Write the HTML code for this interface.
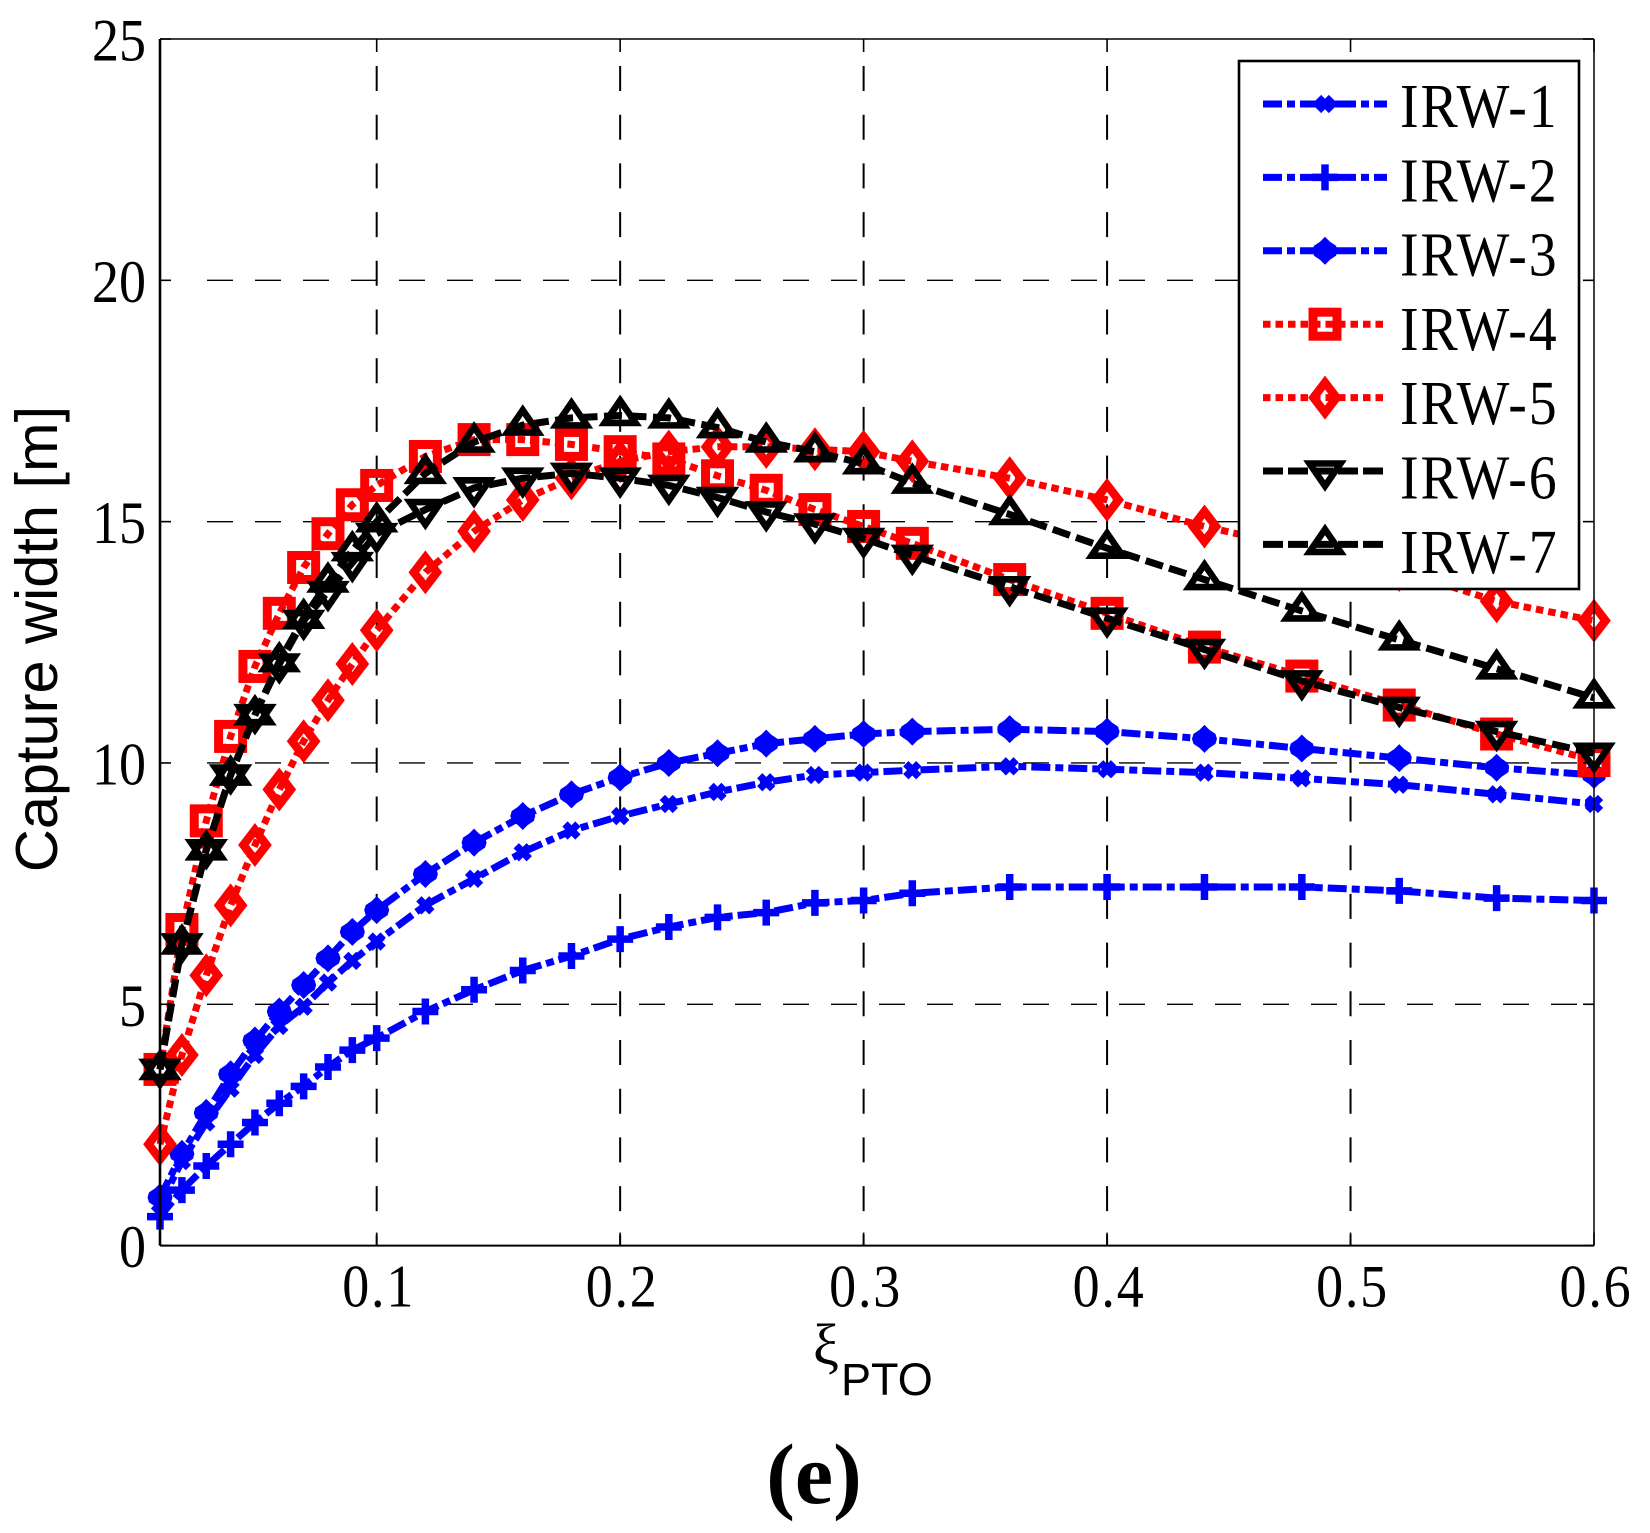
<!DOCTYPE html>
<html>
<head>
<meta charset="utf-8">
<title>Capture width vs PTO damping</title>
<style>
html,body{margin:0;padding:0;background:#fff;width:1650px;height:1533px;overflow:hidden}
svg{display:block}
.serif{font-family:"Liberation Serif",serif;fill:#000}
.sans{font-family:"Liberation Sans",sans-serif;fill:#000}
</style>
</head>
<body>
<svg id="chart" xmlns="http://www.w3.org/2000/svg" width="1650" height="1533" viewBox="0 0 1650 1533">
  <rect x="0" y="0" width="1650" height="1533" fill="#fff"></rect>
  <g id="grid"></g>
  <g id="series"></g>
  <g id="axes"></g>
  <g id="ticks"></g>
  <text class="sans" font-size="59.5" text-anchor="middle" transform="translate(57,639) rotate(-90)">Capture width [m]</text>
  <text class="serif" font-size="58" x="813" y="1364">ξ</text>
  <text class="sans" font-size="45" x="841" y="1395">PTO</text>
  <text class="serif" font-size="86" font-weight="bold" text-anchor="middle" x="814" y="1503">(e)</text>
  <g id="legend"></g>
</svg>
<script>
const xValues = [0.011,0.02,0.03,0.04,0.05,0.06,0.07,0.08,0.09,0.1,0.12,0.14,0.16,0.18,0.2,0.22,0.24,0.26,0.28,0.3,0.32,0.36,0.4,0.44,0.48,0.52,0.56,0.6];
const irw1 = [0.85,1.75,2.55,3.25,3.95,4.55,4.95,5.45,5.9,6.3,7.05,7.6,8.15,8.6,8.9,9.15,9.4,9.6,9.75,9.8,9.85,9.93,9.87,9.8,9.68,9.55,9.35,9.15];
const irw2 = [0.6,1.15,1.65,2.1,2.55,2.95,3.3,3.7,4.05,4.3,4.85,5.3,5.7,6.0,6.35,6.6,6.8,6.9,7.1,7.15,7.3,7.43,7.43,7.43,7.43,7.35,7.2,7.15];
const irw3 = [1.0,1.9,2.75,3.55,4.25,4.85,5.4,5.95,6.5,6.95,7.7,8.35,8.9,9.35,9.7,10.0,10.2,10.4,10.5,10.6,10.65,10.7,10.65,10.5,10.3,10.1,9.9,9.75];
const irw4 = [3.65,6.55,8.8,10.55,12.0,13.1,14.05,14.75,15.35,15.75,16.35,16.7,16.7,16.6,16.45,16.3,15.95,15.65,15.25,14.9,14.55,13.8,13.1,12.4,11.8,11.2,10.6,10.05];
const irw5 = [2.1,3.95,5.6,7.05,8.3,9.45,10.45,11.3,12.05,12.75,13.95,14.8,15.45,15.9,16.25,16.45,16.55,16.55,16.5,16.45,16.25,15.9,15.45,14.9,14.45,14.0,13.35,12.95];
const irw6 = [3.65,6.25,8.2,9.75,11.0,12.05,12.95,13.55,14.15,14.75,15.25,15.7,15.9,16.0,15.9,15.75,15.5,15.2,14.95,14.65,14.3,13.65,13.0,12.35,11.7,11.15,10.65,10.2];
const irw7 = [3.65,6.25,8.2,9.75,11.0,12.1,13.0,13.75,14.4,15.0,16.0,16.65,17.0,17.15,17.2,17.15,16.95,16.65,16.45,16.2,15.8,15.15,14.45,13.8,13.15,12.55,11.95,11.35];
const seriesNames = ["IRW-1","IRW-2","IRW-3","IRW-4","IRW-5","IRW-6","IRW-7"];
const xTickValues = [0.1,0.2,0.3,0.4,0.5,0.6];
const xTickLabels = ["0.1","0.2","0.3","0.4","0.5","0.6"];
const yTickValues = [0,5,10,15,20,25];
const yTickLabels = ["0","5","10","15","20","25"];

const NS = "http://www.w3.org/2000/svg";
const plot = {left:160,right:1594,top:39,bottom:1245.6};
const xMin = 0.011, xMax = 0.6, yMin = 0, yMax = 25;
function xScale(v){ return plot.left + (v - xMin) / (xMax - xMin) * (plot.right - plot.left); }
function yScale(v){ return plot.bottom - (v - yMin) / (yMax - yMin) * (plot.bottom - plot.top); }

const BLUE = "#0000ff", RED = "#ff0000", BLACK = "#000000";
const styles = [
  {color:BLUE, dash:"19 5 8 5", key:"19 5 8 5 56 5 8 5 13", marker:"x"},
  {color:BLUE, dash:"19 5 8 5", key:"19 5 8 5 56 5 8 5 13", marker:"plus"},
  {color:BLUE, dash:"19 5 8 5", key:"19 5 8 5 56 5 8 5 13", marker:"blob"},
  {color:RED, dash:"7.5 5", key:"7.5 5", marker:"square"},
  {color:RED, dash:"7.5 5", key:"7.5 5", marker:"diamond"},
  {color:BLACK, dash:"18 6.5", key:"20 5", marker:"down"},
  {color:BLACK, dash:"18 6.5", key:"20 5", marker:"up"}
];
const seriesValues = [irw1,irw2,irw3,irw4,irw5,irw6,irw7];

function make(tag, attrs, parent){
  const el = document.createElementNS(NS, tag);
  for (const k in attrs) el.setAttribute(k, attrs[k]);
  parent.appendChild(el);
  return el;
}

function drawMarker(kind, cx, cy, color, parent){
  const g = make("g", {transform:"translate(" + cx + "," + cy + ")"}, parent);
  
  
  const open = {fill:"none", stroke:color, "stroke-linejoin":"miter", "stroke-miterlimit":"10"};
  if (kind === "x") {
    make("path", Object.assign({d:"M-6.5,-6.5L6.5,6.5M-6.5,6.5L6.5,-6.5", "stroke-width":"7.5"}, open), g);
  } else if (kind === "plus") {
    make("path", Object.assign({d:"M-13,0H13M0,-13V13", "stroke-width":"7.5"}, open), g);
  } else if (kind === "blob") {
    make("path", {d:"M0,-14L5,-9L11,-5L12.5,0L11,5L5,9L0,14L-5,9L-11,5L-12.5,0L-11,-5L-5,-9Z", fill:color}, g);
  } else if (kind === "square") {
    make("rect", Object.assign({x:-12, y:-12, width:24, height:24, "stroke-width":"9"}, open), g);
  } else if (kind === "diamond") {
    make("path", Object.assign({d:"M0,-15L11.5,0L0,15L-11.5,0Z", "stroke-width":"8.5"}, open), g);
  } else if (kind === "down") {
    make("path", Object.assign({d:"M-15.5,-7.5H15.5L0,15Z", "stroke-width":"6.6"}, open), g);
  } else if (kind === "up") {
    make("path", Object.assign({d:"M-15.5,7.5H15.5L0,-15Z", "stroke-width":"6.6"}, open), g);
  }
}

/* grid */
const gridG = document.getElementById("grid");
xTickValues.slice(0,-1).forEach(function(v){
  const l = make("line", {x1:xScale(v), x2:xScale(v), y1:66, y2:plot.bottom, stroke:"#000", "stroke-width":"2", "stroke-dasharray":"25 23.7"}, gridG);
  
  
});
yTickValues.slice(1,-1).forEach(function(v){
  const l = make("line", {x1:207, x2:plot.right, y1:yScale(v), y2:yScale(v), stroke:"#000", "stroke-width":"1.4", "stroke-dasharray":"26 22"}, gridG);
  
  
});

/* series */
const seriesG = document.getElementById("series");
seriesValues.forEach(function(vals, i){
  const st = styles[i];
  const g = make("g", {}, seriesG);
  
  
  const pts = vals.map(function(v, j){ return xScale(xValues[j]).toFixed(1) + "," + yScale(v).toFixed(1); }).join(" ");
  const line = make("polyline", {points:pts, fill:"none", stroke:st.color, "stroke-width":"7", "stroke-dasharray":st.dash, "stroke-linejoin":"miter"}, g);
  
  
  vals.forEach(function(v, j){ drawMarker(st.marker, xScale(xValues[j]), yScale(v), st.color, g); });
});

/* axes frame */
const axesG = document.getElementById("axes");
const frame = [
  ["axis-left", plot.left, plot.top, plot.left, plot.bottom, 2.6],
  ["axis-top", plot.left, plot.top, plot.right, plot.top, 1.5],
  ["axis-right", plot.right, plot.top, plot.right, plot.bottom, 1.5],
  ["axis-bottom", plot.left, plot.bottom, plot.right, plot.bottom, 2]
];
frame.forEach(function(f){
  const l = make("line", {x1:f[1], y1:f[2], x2:f[3], y2:f[4], stroke:"#000", "stroke-width":f[5]}, axesG);
  
  
});
xTickValues.forEach(function(v){
  const a = make("line", {x1:xScale(v), x2:xScale(v), y1:plot.top, y2:plot.top + 13, stroke:"#000", "stroke-width":"1.6"}, axesG);
  
  
  const b = make("line", {x1:xScale(v), x2:xScale(v), y1:plot.bottom - 13, y2:plot.bottom, stroke:"#000", "stroke-width":"1.6"}, axesG);
  
  
});
yTickValues.forEach(function(v){
  const a = make("line", {x1:plot.left, x2:plot.left + 11, y1:yScale(v), y2:yScale(v), stroke:"#000", "stroke-width":"1.6"}, axesG);
  
  
  const b = make("line", {x1:plot.right - 11, x2:plot.right, y1:yScale(v), y2:yScale(v), stroke:"#000", "stroke-width":"1.6"}, axesG);
  
  
});

/* tick labels */
const ticksG = document.getElementById("ticks");
function scaledText(str, x, y, size, anchor, spacing, parent){
  const t = make("text", {"class":"serif", "font-size":size, "text-anchor":anchor, "letter-spacing":spacing, transform:"translate(" + x + "," + y + ") scale(0.9,1)"}, parent);
  t.textContent = str;
  return t;
}
xTickValues.forEach(function(v, i){
  const t = scaledText(xTickLabels[i], xScale(v) + 2, plot.bottom + 61, 60, "middle", 2, ticksG);
  
  
});
yTickValues.forEach(function(v, i){
  const t = scaledText(yTickLabels[i], 146, yScale(v) + 21.5, 60, "end", 0, ticksG);
  
  
});

/* legend */
const legendG = document.getElementById("legend");
const box = make("rect", {x:1239, y:61, width:340, height:528, fill:"#fff", stroke:"#000", "stroke-width":"2.6"}, legendG);


seriesNames.forEach(function(name, i){
  const st = styles[i];
  const rowY = 104 + i * 73.4;
  const g = make("g", {}, legendG);
  
  
  make("line", {x1:1263, x2:1387, y1:rowY, y2:rowY, stroke:st.color, "stroke-width":"7", "stroke-dasharray":st.key}, g);
  drawMarker(st.marker, 1325, rowY, st.color, g);
  const t = scaledText(name, 1400, 127 + i * 74.3, 62, "start", 2.2, g);
  
  
});
</script>
</body>
</html>
